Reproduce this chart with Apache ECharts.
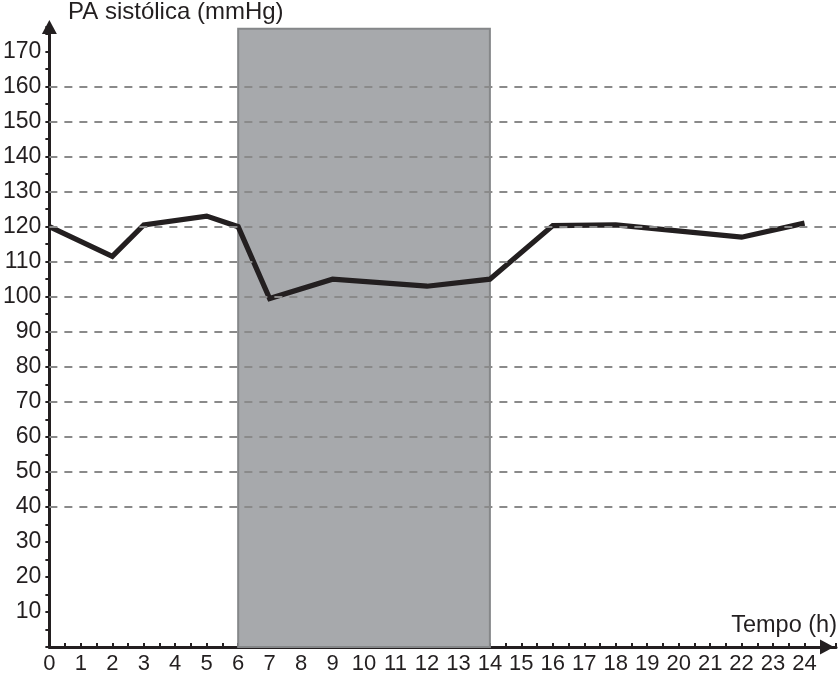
<!DOCTYPE html>
<html>
<head>
<meta charset="utf-8">
<script src="https://cdn.jsdelivr.net/npm/echarts@6/dist/echarts.min.js"></script>
<style>
  html, body { margin: 0; padding: 0; background: #fff; }
  #chart { width: 839px; height: 681px; }
</style>
</head>
<body>
<div id="chart"></div>
<script>
// measured pressure (mmHg) against hour of day
var hours = [0, 2, 3, 5, 6, 7, 9, 12, 14, 16, 18, 22, 24];
var pressure = [120, 111.5, 120.5, 123, 120, 99.5, 105, 103, 105, 120.3, 120.5, 117, 121];

// dashed reference levels
var gridLevels = [40, 50, 60, 70, 80, 90, 100, 110, 120, 130, 140, 150, 160];

// shaded sleep period
var sleepStart = 6;
var sleepEnd = 14;
var sleepTop = 176.5;

var yLabelMax = 170;
var xLabelMax = 24;

var ink = '#231f20';
var font = '"Liberation Sans", Arial, sans-serif';

var chart = echarts.init(document.getElementById('chart'));

var lineData = [];
for (var i = 0; i < hours.length; i++) {
  lineData.push([hours[i], pressure[i]]);
}

var levelLines = [];
for (var j = 0; j < gridLevels.length; j++) {
  levelLines.push({ yAxis: gridLevels[j] });
}

var option = {
  animation: false,
  backgroundColor: '#fff',
  grid: { left: 49, right: 0, top: 27, bottom: 34 },
  xAxis: {
    type: 'value',
    min: 0,
    max: 25,
    interval: 0.5,
    axisLine: {
      show: true,
      onZero: false,
      symbol: ['none', 'triangle'],
      symbolSize: [15, 14],
      symbolOffset: [0, -9],
      lineStyle: { color: ink, width: 3 }
    },
    axisTick: { show: true, inside: true, length: 4, lineStyle: { color: ink, width: 2 } },
    axisLabel: {
      margin: 6,
      fontSize: 22,
      color: ink,
      fontFamily: font,
      formatter: function (v) {
        return (v % 1 === 0 && v <= xLabelMax) ? String(v) : '';
      }
    },
    splitLine: { show: false }
  },
  yAxis: {
    type: 'value',
    min: 0,
    max: 177,
    interval: 5,
    axisLine: {
      show: true,
      onZero: false,
      symbol: ['none', 'triangle'],
      symbolSize: [15, 14],
      lineStyle: { color: ink, width: 3 }
    },
    axisTick: { show: true, inside: false, length: 4, lineStyle: { color: ink, width: 2 } },
    axisLabel: {
      margin: 8,
      fontSize: 23,
      color: ink,
      fontFamily: font,
      formatter: function (v) {
        return (v % 10 === 0 && v > 0 && v <= yLabelMax) ? String(v) : '';
      }
    },
    splitLine: { show: false }
  },
  graphic: [
    {
      type: 'text',
      left: 68,
      top: 0,
      style: { text: 'PA sistólica (mmHg)', fontSize: 24, fontFamily: font, fill: ink }
    },
    {
      type: 'text',
      right: 2,
      top: 614,
      style: { text: 'Tempo (h)', fontSize: 23.5, fontFamily: font, fill: ink }
    }
  ],
  series: [
    {
      type: 'line',
      data: [],
      z: 1,
      silent: true,
      markArea: {
        silent: true,
        itemStyle: { color: '#a7a9ac', borderColor: '#858789', borderWidth: 2 },
        data: [[{ xAxis: sleepStart, yAxis: 0 }, { xAxis: sleepEnd, yAxis: sleepTop }]]
      }
    },
    {
      type: 'line',
      data: [],
      z: 2,
      silent: true,
      markLine: {
        silent: true,
        symbol: ['none', 'none'],
        label: { show: false },
        lineStyle: { color: '#8a8a8a', width: 2, type: [8, 7] },
        data: levelLines
      }
    },
    {
      type: 'line',
      z: 3,
      data: lineData,
      symbol: 'none',
      lineStyle: { color: ink, width: 5.2, join: 'miter' }
    }
  ]
};

chart.setOption(option);
</script>
</body>
</html>
